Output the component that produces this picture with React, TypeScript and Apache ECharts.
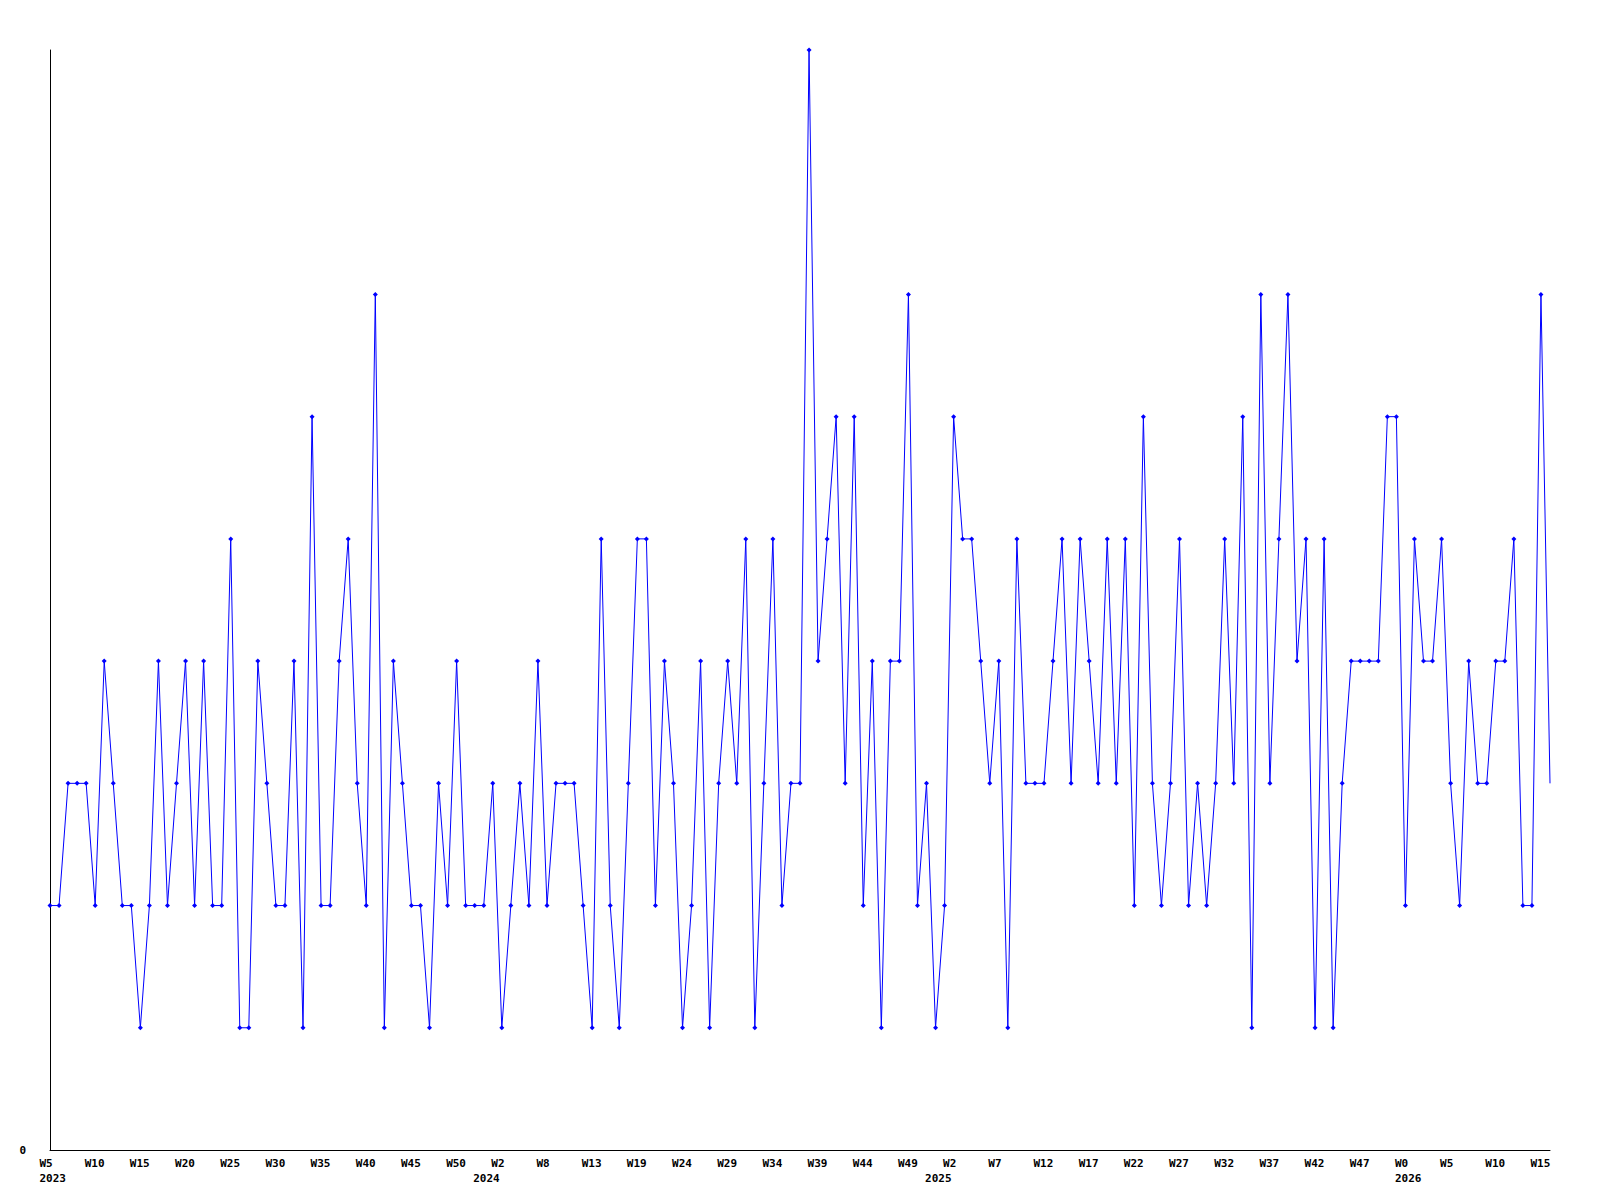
import React, { useEffect, useRef } from "react";
import * as echarts from "echarts";

// Weekly values, 2023 W5 .. 2026 W15 (167 points)
const values: number[] = [
  2, 2, 3, 3, 3, 2, 4, 3, 2, 2, 1, 2, 4, 2, 3, 4, 2, 4, 2, 2, 5, 1, 1, 4, 3, 2, 2, 4, 1,
  6, 2, 2, 4, 5, 3, 2, 7, 1, 4, 3, 2, 2, 1, 3, 2, 4, 2, 2, 2, 3, 1, 2, 3, 2, 4, 2, 3, 3,
  3, 2, 1, 5, 2, 1, 3, 5, 5, 2, 4, 3, 1, 2, 4, 1, 3, 4, 3, 5, 1, 3, 5, 2, 3, 3, 9, 4, 5,
  6, 3, 6, 2, 4, 1, 4, 4, 7, 2, 3, 1, 2, 6, 5, 5, 4, 3, 4, 1, 5, 3, 3, 3, 4, 5, 3, 5, 4,
  3, 5, 3, 5, 2, 6, 3, 2, 3, 5, 2, 3, 2, 3, 5, 3, 6, 1, 7, 3, 5, 7, 4, 5, 1, 5, 1, 3,
  4, 4, 4, 4, 6, 6, 2, 5, 4, 4, 5, 3, 2, 4, 3, 3, 4, 4, 5, 2, 2, 7, 3,
];

// Week tick labels shown every 5th week
const tickWeeks: string[] = [
  "W5", "W10", "W15", "W20", "W25", "W30", "W35", "W40", "W45", "W50",
  "W2", "W8", "W13", "W19", "W24", "W29", "W34", "W39", "W44", "W49",
  "W2", "W7", "W12", "W17", "W22", "W27", "W32", "W37", "W42", "W47",
  "W0", "W5", "W10", "W15",
];
const tickStep = 5;

// Year labels at the first week of each year (category index)
const yearLabels: string[] = ["2023", "2024", "2025", "2026"];
const yearStartIndex: number[] = [0, 48, 98, 150];

const categories: string[] = values.map((_, i) => {
  const parts: string[] = [];
  if (i % tickStep === 0) parts.push(tickWeeks[i / tickStep]);
  const y = yearStartIndex.indexOf(i);
  if (y >= 0) parts.push(yearLabels[y]);
  return parts.join(" ");
});

const FONT = "DejaVu Sans Mono";

export default function App() {
  const ref = useRef<HTMLDivElement>(null);
  useEffect(() => {
    if (!ref.current) return;
    const chart = echarts.init(ref.current, undefined, { renderer: "svg" });
    const last = values.length - 1;
    chart.setOption({
      animation: false,
      backgroundColor: "#ffffff",
      grid: { left: 50, right: 50, top: 50, bottom: 50, containLabel: false },
      xAxis: {
        type: "category",
        data: categories,
        boundaryGap: false,
        axisLine: { show: true, lineStyle: { color: "#000", width: 1 } },
        axisTick: { show: false },
        splitLine: { show: false },
        axisLabel: {
          interval: (index: number) =>
            index % tickStep === 0 || yearStartIndex.indexOf(index) >= 0,
          margin: 6,
          formatter: (_v: string, index: number) => {
            const w = index % tickStep === 0 ? tickWeeks[index / tickStep] : " ";
            const yi = yearStartIndex.indexOf(index);
            return yi >= 0 ? `{a|${w}}\n{a|${yearLabels[yi]}}` : `{a|${w}}`;
          },
          rich: {
            a: {
              width: 21,
              align: "left",
              fontFamily: FONT,
              fontWeight: "bold",
              fontSize: 11,
              lineHeight: 15,
              color: "#000",
            },
          },
        },
      },
      yAxis: {
        type: "value",
        min: 0,
        max: 9,
        interval: 9,
        axisLine: { show: true, lineStyle: { color: "#000", width: 1 } },
        axisTick: { show: false },
        splitLine: { show: false },
        axisLabel: {
          margin: 24,
          fontFamily: FONT,
          fontWeight: "bold",
          fontSize: 11,
          color: "#000",
          formatter: (v: number) => (v === 0 ? "0" : ""),
        },
      },
      series: [
        {
          type: "line",
          data: values.map((v, i) => (i === last ? { value: v, symbol: "none" } : v)),
          showAllSymbol: true,
          symbol: "diamond",
          symbolSize: 5,
          lineStyle: { color: "#0000ff", width: 1 },
          itemStyle: { color: "#0000ff" },
          emphasis: { disabled: true },
        },
      ],
    });
    return () => chart.dispose();
  }, []);
  return (
    <div
      ref={ref}
      style={{ position: "absolute", left: 0, top: 0, width: 1600, height: 1200 }}
    />
  );
}
